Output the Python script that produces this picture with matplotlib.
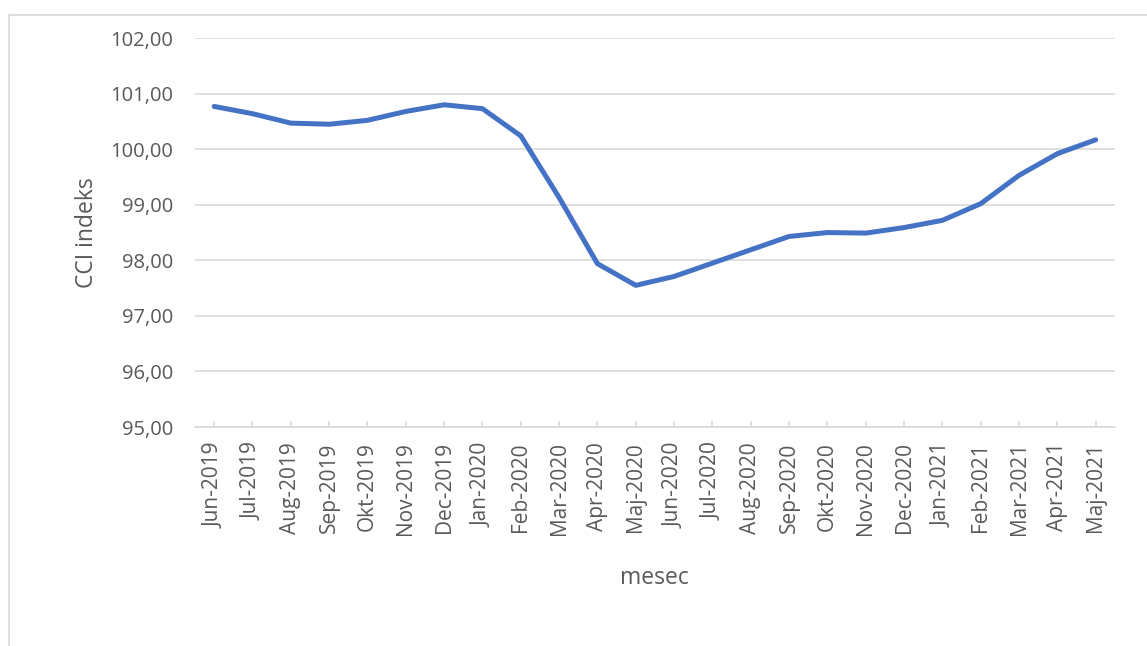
# CCI indeks po mesecih (Jun-2019 - Maj-2021)
import matplotlib
matplotlib.use("Agg")
import matplotlib.pyplot as plt
from matplotlib.patches import Rectangle

# Data
meseci = ['Jun-2019', 'Jul-2019', 'Aug-2019', 'Sep-2019', 'Okt-2019', 'Nov-2019',
          'Dec-2019', 'Jan-2020', 'Feb-2020', 'Mar-2020', 'Apr-2020', 'Maj-2020',
          'Jun-2020', 'Jul-2020', 'Aug-2020', 'Sep-2020', 'Okt-2020', 'Nov-2020',
          'Dec-2020', 'Jan-2021', 'Feb-2021', 'Mar-2021', 'Apr-2021', 'Maj-2021']
cci = [100.77, 100.64, 100.47, 100.45, 100.52, 100.68,
       100.80, 100.73, 100.24, 99.13, 97.94, 97.55,
       97.71, 97.95, 98.19, 98.43, 98.50, 98.49,
       98.59, 98.72, 99.02, 99.53, 99.92, 100.17]
y_ticks = [95, 96, 97, 98, 99, 100, 101, 102]

plt.rcParams['font.family'] = ['Open Sans', 'DejaVu Sans']
text_color = '#595959'
grid_color = '#d9d9d9'

fig = plt.figure(figsize=(11.47, 6.46), dpi=100)
ax = fig.add_axes([0.170, 0.339, 0.802, 0.602])

# outer chart frame
fig.patches.append(Rectangle((9 / 1147, -0.1), 1.2, 1 - 15 / 646 + 0.1,
                             transform=fig.transFigure, fill=False,
                             edgecolor=grid_color, linewidth=1.2))

x = list(range(len(meseci)))
ax.plot(x, cci, color='#4472C4', linewidth=3.6,
        solid_capstyle='round', solid_joinstyle='round', zorder=3)

ax.set_xlim(-0.5, len(meseci) - 0.5)
ax.set_ylim(95, 102)
ax.set_yticks(y_ticks)
ax.set_yticklabels([('%.2f' % v).replace('.', ',') for v in y_ticks])
ax.set_xticks(x)
ax.set_xticklabels(meseci, rotation=90)

ax.grid(axis='y', color=grid_color, linewidth=1.2, zorder=0)
for side in ['top', 'right', 'left']:
    ax.spines[side].set_visible(False)
ax.spines['bottom'].set_color(grid_color)
ax.spines['bottom'].set_linewidth(1.2)

ax.tick_params(axis='y', length=0, pad=16, labelsize=14.5, labelcolor=text_color)
ax.tick_params(axis='x', direction='in', length=4, width=1.2, color=grid_color,
               pad=11, labelsize=15, labelcolor=text_color)

ax.set_ylabel('CCI indeks', fontsize=16.5, color=text_color, labelpad=8)
ax.set_xlabel('mesec', fontsize=16.5, color=text_color, labelpad=22)

plt.savefig('out.png', dpi=100)
plt.close('all')
